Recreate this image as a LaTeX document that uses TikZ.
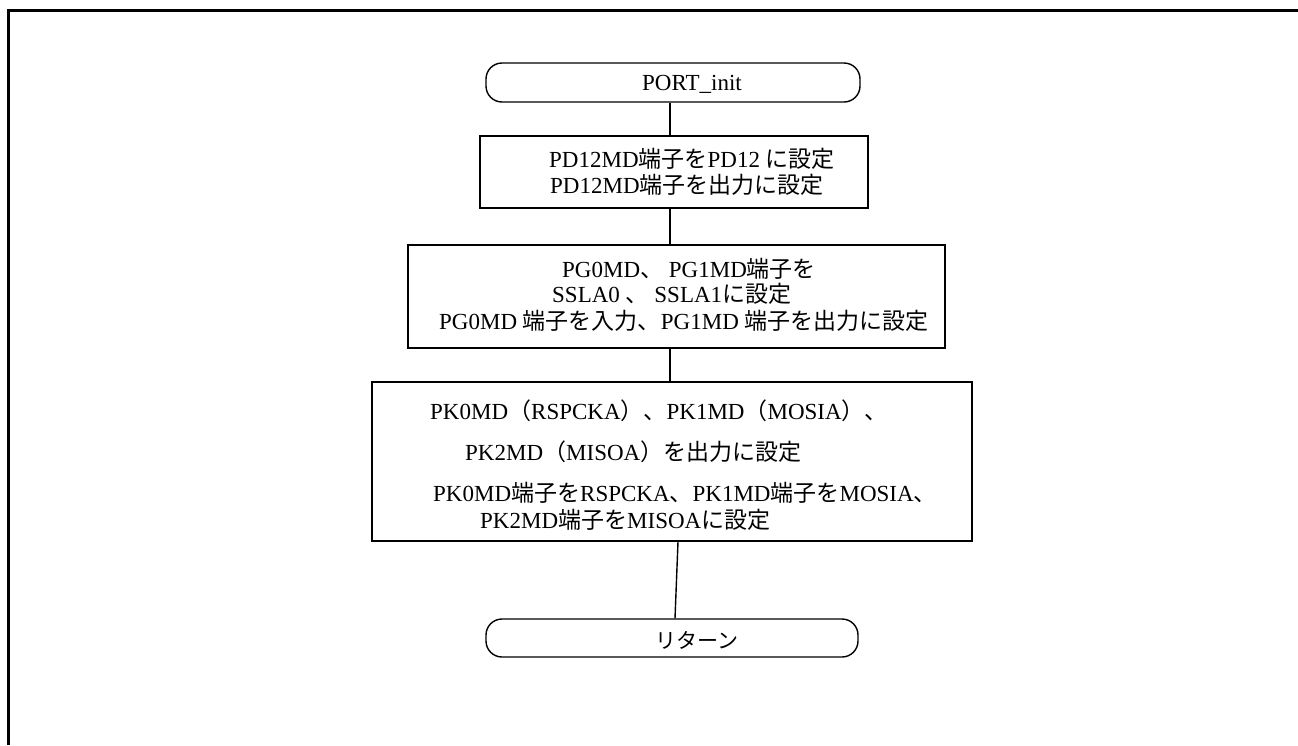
\documentclass[tikz,border=0pt]{standalone}
\usepackage{fontspec}
\setmainfont{Liberation Serif}
\newfontfamily\jpfont{Noto Sans CJK JP}
\newcommand\jt[1]{{\jpfont #1}}
\usetikzlibrary{calc}
\tikzset{
  framebox/.style={draw, line width=1.4pt, rectangle, inner sep=0pt},
  terminal/.style={draw, line width=1.4pt, rectangle, rounded corners=16pt, inner sep=0pt},
  txt/.style={anchor=base west, inner sep=0pt, font=\fontsize{23}{27}\selectfont},
  link/.style={line width=1.4pt}
}
\begin{document}
\begin{tikzpicture}[x=1pt,y=-1pt]
\useasboundingbox (0,0) rectangle (1298,745);
% outer frame (top and left edges)
\draw[line width=3pt] (8,745) -- (8,10) -- (1298,10);

% start terminal
\node[terminal, minimum width=374pt, minimum height=39pt] (t1) at (673,82.5) {};
\node[txt] (t1t) at (642,90) {PORT\_init};

% step 1
\node[framebox, minimum width=388pt, minimum height=72pt] (b1) at (674,172) {};
\node[txt] (b1a) at (549,167) {PD12MD\jt{端子を}PD12 \jt{に設定}};
\node[txt] (b1b) at (550,193) {PD12MD\jt{端子を出力に設定}};

% step 2
\node[framebox, minimum width=537pt, minimum height=103pt] (b2) at (676.5,296.5) {};
\node[txt] (b2a) at (562,277) {PG0MD\jt{、} PG1MD\jt{端子を}};
\node[txt] (b2b) at (552,302) {SSLA0 \jt{、} SSLA1\jt{に設定}};
\node[txt] (b2c) at (439,329) {PG0MD \jt{端子を入力、}PG1MD \jt{端子を出力に設定}};

% step 3
\node[framebox, minimum width=600pt, minimum height=159pt] (b3) at (672,461.5) {};
\node[txt] (b3a) at (430,419) {PK0MD\jt{（}RSPCKA\jt{）、}PK1MD\jt{（}MOSIA\jt{）、}};
\node[txt] (b3b) at (465,460) {PK2MD\jt{（}MISOA\jt{）を出力に設定}};
\node[txt] (b3c) at (433,501) {PK0MD\jt{端子を}RSPCKA\jt{、}PK1MD\jt{端子を}MOSIA\jt{、}};
\node[txt] (b3d) at (480,528) {PK2MD\jt{端子を}MISOA\jt{に設定}};

% end terminal
\node[terminal, minimum width=372pt, minimum height=38pt] (t2) at (672,638) {};
\node[txt, font=\fontsize{21}{25}\jpfont] (t2t) at (655,648) {リターン};

% connectors
\draw[link] ($(t1.south)+(-3,0)$) -- ($(b1.north)+(-4,0)$);
\draw[link] ($(b1.south)+(-4,0)$) -- ($(b2.north)+(-6.5,0)$);
\draw[link] ($(b2.south)+(-6.5,0)$) -- ($(b3.north)+(-2,0)$);
\draw[link] ($(b3.south)+(6,0)$) -- ($(t2.north)+(3,0)$);
\end{tikzpicture}
\end{document}
